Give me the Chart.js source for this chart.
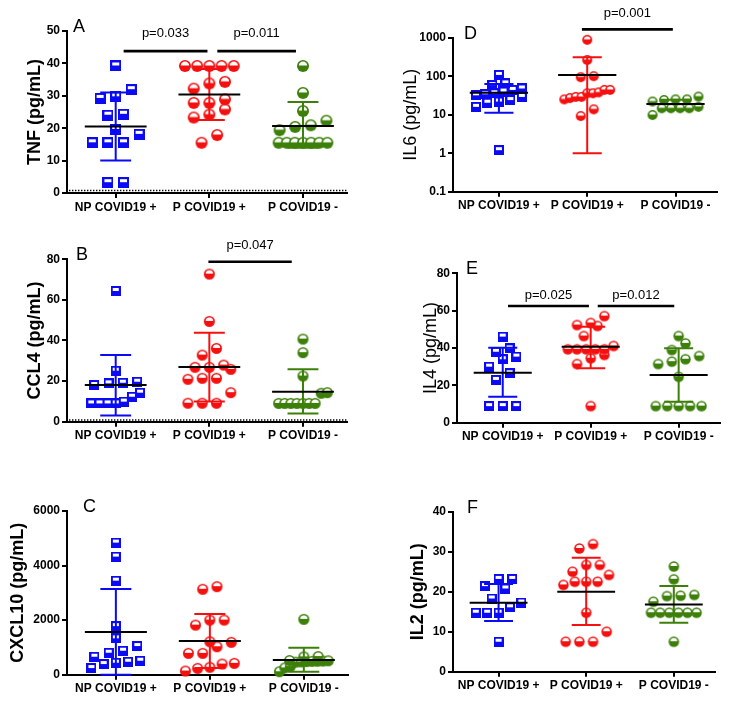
<!DOCTYPE html>
<html><head><meta charset="utf-8">
<script src="https://cdn.jsdelivr.net/npm/chart.js@4.4.1/dist/chart.umd.min.js"></script>
<style>
html,body{margin:0;padding:0;background:#fff;}
#wrap{position:relative;width:739px;height:701px;overflow:hidden;background:#fff;}
canvas{position:absolute;}
</style></head>
<body><div id="wrap"></div>
<script>
// ---------- DATA ----------
const groups = ['NP COVID19 +', 'P COVID19 +', 'P COVID19 -'];

// A: TNF
const tnfNP   = [39.2, 31.9, 29.7, 29.2, 24.0, 24.3, 19.6, 18.1, 15.5, 15.5, 15.5, 3.2, 3.2];
const tnfP    = [39.2, 39.2, 39.2, 39.2, 39.2, 34.3, 33.8, 32.2, 28.9, 27.8, 27.8, 25.8, 24.2, 23.3, 17.9, 15.5];
const tnfPneg = [39.2, 30.9, 25.3, 22.3, 20.9, 20.4, 19.4, 15.5, 15.5, 15.5, 15.5, 15.5, 15.5, 15.5];
const tnfMean = [20.5, 30.4, 20.7];
const tnfLow  = [10.0, 22.5, 14.0];
const tnfHigh = [31.0, 38.3, 28.1];
const tnfTicks = [0, 10, 20, 30, 40, 50];
const tnfLimit = 0.8;
const tnfBrackets = [[0.085, 0.98, 43.8, 49.2, 'p=0.033'], [1.085, 1.925, 43.8, 49.2, 'p=0.011']];

// B: CCL4
const ccl4NP   = [64.4, 25.1, 19.7, 19.2, 18.9, 18.1, 14.3, 12.3, 9.9, 9.0, 9.0, 9.0, 9.0];
const ccl4P    = [72.7, 49.4, 36.1, 32.8, 27.9, 26.8, 26.8, 25.8, 21.4, 21.4, 20.9, 14.3, 9.1, 9.1, 9.1];
const ccl4Pneg = [40.7, 34.0, 22.5, 14.3, 14.0, 9.0, 9.0, 9.0, 9.0, 9.0, 9.0, 9.0];
const ccl4Mean = [18.1, 26.9, 14.8];
const ccl4Low  = [3.0, 9.9, 4.1];
const ccl4High = [32.9, 43.8, 25.8];
const ccl4Ticks = [0, 20, 40, 60, 80];
const ccl4Limit = 0.8;
const ccl4Brackets = [[0.99, 1.88, 78.8, 87, 'p=0.047']];

// C: CXCL10
const cxNP   = [4841, 4328, 3447, 1782, 1332, 1050, 878, 805, 659, 512, 476, 439, 392, 245];
const cxP    = [3227, 3130, 2002, 2002, 1819, 1208, 1186, 1025, 783, 783, 417, 392, 271, 234, 135];
const cxPneg = [2028, 665, 655, 520, 510, 500, 495, 490, 480, 470, 460, 300, 250, 110];
const cxMean = [1565, 1235, 538];
const cxLow  = [0, 245, 110];
const cxHigh = [3142, 2225, 990];
const cxTicks = [0, 2000, 4000, 6000];
const cxBrackets = [];

// D: IL6 (log)
const il6NP   = [108, 65, 59, 48, 44, 40, 36, 34, 32, 29, 24, 22, 20.5, 16, 1.2];
const il6P    = [880, 263, 100, 94, 44, 44, 38, 36, 36, 29, 29, 27, 25, 13.8, 9.2];
const il6Pneg = [29.5, 25, 25, 24, 22, 16, 14.7, 14.7, 14.7, 14.7, 9.8];
const il6Mean = [37, 107, 19];
const il6Low  = [11.3, 1.0, 13.5];
const il6High = [62.7, 310, 24.5];
const il6Ticks = [0.1, 1, 10, 100, 1000];
const il6Brackets = [[0.94, 1.97, 1645, 4300, 'p=0.001']];

// E: IL4
const il4NP   = [46.1, 39.8, 38.0, 35.4, 34.0, 30.0, 26.5, 22.9, 8.9, 8.9, 8.9];
const il4P    = [57.1, 53.4, 52.3, 51.8, 46.4, 41.1, 39.3, 39.3, 39.3, 39.3, 39.3, 36.3, 34.5, 31.4, 8.9];
const il4Pneg = [46.4, 42.5, 38.9, 35.7, 34.0, 32.7, 31.4, 24.6, 8.9, 8.9, 8.9, 8.9, 8.9];
const il4Mean = [26.8, 40.7, 25.5];
const il4Low  = [13.9, 29.1, 11.2];
const il4High = [40.2, 51.4, 39.8];
const il4Ticks = [0, 20, 40, 60, 80];
const il4Brackets = [[0.06, 0.98, 62.5, 68.4, 'p=0.025'], [1.08, 1.95, 62.5, 68.4, 'p=0.012']];

// F: IL2
const il2NP   = [23.2, 23.2, 21.4, 20.8, 18.3, 17.3, 16.1, 14.75, 14.75, 14.75, 7.5];
const il2P    = [31.9, 30.8, 26.7, 26.7, 25.0, 24.2, 22.5, 22.5, 22.5, 21.7, 14.75, 10.0, 7.5, 7.5, 7.5];
const il2Pneg = [26.3, 23.1, 19.2, 19.0, 18.9, 17.5, 14.75, 14.75, 14.75, 14.75, 14.75, 14.75, 7.5];
const il2Mean = [17.25, 20.0, 16.8];
const il2Low  = [12.7, 11.7, 12.25];
const il2High = [21.9, 28.5, 21.4];
const il2Ticks = [0, 10, 20, 30, 40];
const il2Brackets = [];

// ---------- STYLE / LAYOUT ----------
const FONT = '"Liberation Sans", Arial, Helvetica, sans-serif';
const COLORS = ['#0a0af5', '#f51010', '#3c800a'];
const X_MIN = -0.52, X_MAX = 2.47;

const panels = [
  {id:'A', title:'TNF (pg/mL)', bold:true, log:false, ticks:tnfTicks, values:[tnfNP, tnfP, tnfPneg], mean:tnfMean, low:tnfLow, high:tnfHigh, brackets:tnfBrackets, limit:tnfLimit},
  {id:'B', title:'CCL4 (pg/mL)', bold:true, log:false, ticks:ccl4Ticks, values:[ccl4NP, ccl4P, ccl4Pneg], mean:ccl4Mean, low:ccl4Low, high:ccl4High, brackets:ccl4Brackets, limit:ccl4Limit},
  {id:'C', title:'CXCL10 (pg/mL)', bold:true, log:false, ticks:cxTicks, values:[cxNP, cxP, cxPneg], mean:cxMean, low:cxLow, high:cxHigh, brackets:cxBrackets, limit:null},
  {id:'D', title:'IL6 (pg/mL)', bold:false, log:true, ticks:il6Ticks, values:[il6NP, il6P, il6Pneg], mean:il6Mean, low:il6Low, high:il6High, brackets:il6Brackets, limit:null},
  {id:'E', title:'IL4 (pg/mL)', bold:false, log:false, ticks:il4Ticks, values:[il4NP, il4P, il4Pneg], mean:il4Mean, low:il4Low, high:il4High, brackets:il4Brackets, limit:null},
  {id:'F', title:'IL2 (pg/mL)', bold:true, log:false, ticks:il2Ticks, values:[il2NP, il2P, il2Pneg], mean:il2Mean, low:il2Low, high:il2High, brackets:il2Brackets, limit:null}
];

const layouts = {
  A: {x:0,   y:0,   w:370, h:225, left:67, right:347, top:31,   bottom:193,   titleX:35,   letterDX:6,  sq:11, dot:12},
  B: {x:0,   y:225, w:370, h:235, left:67, right:347, top:34.3, bottom:196.7, titleX:35,   letterDX:9,  sq:10, dot:11},
  C: {x:0,   y:460, w:370, h:241, left:67, right:348, top:51,   bottom:214.7, titleX:18.5, letterDX:16, sq:10, dot:11},
  D: {x:370, y:0,   w:369, h:225, left:83, right:347, top:37.7, bottom:191.7, titleX:41,   letterDX:11, sq:10, dot:10},
  E: {x:370, y:225, w:369, h:235, left:87, right:350, top:48.3, bottom:197.7, titleX:61,   letterDX:9,  sq:10, dot:10.5},
  F: {x:370, y:460, w:369, h:241, left:83, right:345, top:51.7, bottom:211.7, titleX:48,   letterDX:14, sq:10, dot:10.5}
};

function makeSquare(color, s) {
  const c = document.createElement('canvas'); c.width = s; c.height = s;
  const g = c.getContext('2d');
  g.fillStyle = color; g.fillRect(0, 0, s, s);
  g.fillStyle = '#fff'; g.fillRect(2, 2, s - 4, Math.round(s * 0.3));
  return c;
}
function makeCircle(color, d) {
  const s = Math.ceil(d) + 2;
  const c = document.createElement('canvas'); c.width = s; c.height = s;
  const g = c.getContext('2d');
  const r = d / 2, cx = s / 2;
  g.fillStyle = color; g.beginPath(); g.arc(cx, cx, r, 0, Math.PI * 2); g.fill();
  g.fillStyle = '#fff'; g.beginPath();
  g.arc(cx, cx - 0.4, r - 1.8, Math.PI, Math.PI * 2); g.closePath(); g.fill();
  return c;
}

function makeDecor(pn, L) {
  return {
    id: 'decor' + pn.id,
    beforeDatasetsDraw(chart) {
      if (pn.limit == null) return;
      const {ctx, chartArea: a, scales: {y}} = chart;
      const py = y.getPixelForValue(pn.limit);
      ctx.save();
      ctx.strokeStyle = '#000'; ctx.lineWidth = 1.5; ctx.setLineDash([1.4, 1.6]);
      ctx.beginPath(); ctx.moveTo(a.left + 2, py); ctx.lineTo(a.right, py); ctx.stroke();
      ctx.restore();
    },
    afterDatasetsDraw(chart) {
      const {ctx, chartArea: a, scales: {x, y}} = chart;
      const unit = x.getPixelForValue(1) - x.getPixelForValue(0);
      ctx.save();
      for (let g = 0; g < 3; g++) {
        const cx = x.getPixelForValue(g);
        const yl = Math.min(y.getPixelForValue(Math.max(pn.low[g], pn.ticks[0])), a.bottom);
        const yh = y.getPixelForValue(pn.high[g]);
        const ym = y.getPixelForValue(pn.mean[g]);
        const cap = 0.165 * unit, mw = 0.33 * unit;
        ctx.strokeStyle = COLORS[g]; ctx.lineWidth = 2;
        ctx.beginPath();
        ctx.moveTo(cx, yh); ctx.lineTo(cx, yl);
        ctx.moveTo(cx - cap, yh); ctx.lineTo(cx + cap, yh);
        ctx.moveTo(cx - cap, yl); ctx.lineTo(cx + cap, yl);
        ctx.stroke();
        ctx.strokeStyle = '#000'; ctx.lineWidth = 2;
        ctx.beginPath(); ctx.moveTo(cx - mw, ym); ctx.lineTo(cx + mw, ym); ctx.stroke();
      }
      // significance brackets
      ctx.fillStyle = '#000'; ctx.strokeStyle = '#000';
      ctx.font = '13px ' + FONT; ctx.textAlign = 'center'; ctx.textBaseline = 'middle';
      pn.brackets.forEach(b => {
        const x1 = x.getPixelForValue(b[0]), x2 = x.getPixelForValue(b[1]);
        const ly = y.getPixelForValue(b[2]), ty = y.getPixelForValue(b[3]);
        ctx.lineWidth = 2.6;
        ctx.beginPath(); ctx.moveTo(x1, ly); ctx.lineTo(x2, ly); ctx.stroke();
        ctx.fillText(b[4], (x1 + x2) / 2, ty);
      });
      // panel letter
      ctx.font = '18px ' + FONT; ctx.textAlign = 'left'; ctx.textBaseline = 'alphabetic';
      ctx.fillText(pn.id, a.left + L.letterDX, a.top + 1);
      ctx.restore();
    }
  };
}

// Column-scatter layout: points of close value share a centred row.
function swarm(values, g, xs, ys, diam, maxFrac) {
  const unit = xs.getPixelForValue(1) - xs.getPixelForValue(0);
  const items = values.map(v => ({v, py: ys.getPixelForValue(v)})).sort((p, q) => q.py - p.py);
  const out = [];
  let i = 0;
  while (i < items.length) {
    let j = i;
    while (j + 1 < items.length && Math.abs(items[j + 1].py - items[i].py) < diam * 1.0) j++;
    const n = j - i + 1;
    const sp = n > 1 ? Math.min(diam * 1.3, (maxFrac * unit) / (n - 1)) : 0;
    for (let k = 0; k < n; k++) out.push({x: g + ((k - (n - 1) / 2) * sp) / unit, y: items[i + k].v});
    i = j + 1;
  }
  return out;
}

const wrap = document.getElementById('wrap');

function buildPanel(pn) {
  const L = layouts[pn.id];
  const cv = document.createElement('canvas');
  cv.width = L.w; cv.height = L.h;
  cv.style.left = L.x + 'px'; cv.style.top = L.y + 'px';
  cv.style.width = L.w + 'px'; cv.style.height = L.h + 'px';
  wrap.appendChild(cv);
  const markers = [makeSquare(COLORS[0], L.sq), makeCircle(COLORS[1], L.dot), makeCircle(COLORS[2], L.dot)];
  const datasets = pn.values.map((vals, g) => ({
    data: vals.map(v => ({x: g, y: v})),
    pointStyle: markers[g], pointRadius: L.dot / 2, clip: false, showLine: false,
    backgroundColor: COLORS[g], borderColor: COLORS[g]
  }));
  const tickFont = {family: FONT, size: 12, weight: 'bold'};
  const gridOpt = {drawOnChartArea: false, drawTicks: true, tickLength: 5, color: '#000', lineWidth: 2};
  const borderOpt = {display: true, color: '#000', width: 2};
  const chart = new Chart(cv, {
    type: 'scatter',
    data: {datasets},
    options: {
      responsive: false, animation: false, events: [],
      layout: {padding: {left: 0, top: L.top, right: L.w - L.right, bottom: 0}},
      plugins: {legend: {display: false}, tooltip: {enabled: false}},
      scales: {
        x: {
          type: 'linear', min: X_MIN, max: X_MAX,
          afterBuildTicks: s => { s.ticks = groups.map((_, i) => ({value: i})); },
          afterFit: s => { s.height = L.h - L.bottom; },
          ticks: {callback: (v, i) => groups[i], font: tickFont, color: '#000', padding: 2, autoSkip: false, maxRotation: 0, minRotation: 0},
          grid: gridOpt, border: borderOpt
        },
        y: {
          type: pn.log ? 'logarithmic' : 'linear',
          min: pn.ticks[0], max: pn.ticks[pn.ticks.length - 1],
          afterBuildTicks: s => { s.ticks = pn.ticks.map(v => ({value: v})); },
          afterFit: s => { s.width = L.left; },
          ticks: {callback: (v, i) => String(pn.ticks[i]), font: tickFont, color: '#000', padding: 2, autoSkip: false},
          title: {display: true, text: pn.title, color: '#000',
                  font: {family: FONT, size: 18, weight: pn.bold ? 'bold' : 'normal'},
                  padding: {top: L.titleX - 10.8, bottom: 0}},
          grid: gridOpt, border: borderOpt
        }
      }
    },
    plugins: [makeDecor(pn, L)]
  });
  const xs = chart.scales.x, ys = chart.scales.y;
  pn.values.forEach((vals, g) => {
    chart.data.datasets[g].data = swarm(vals, g, xs, ys, L.dot, 0.52);
  });
  chart.update('none');
}

panels.forEach(buildPanel);
</script>
</body></html>
